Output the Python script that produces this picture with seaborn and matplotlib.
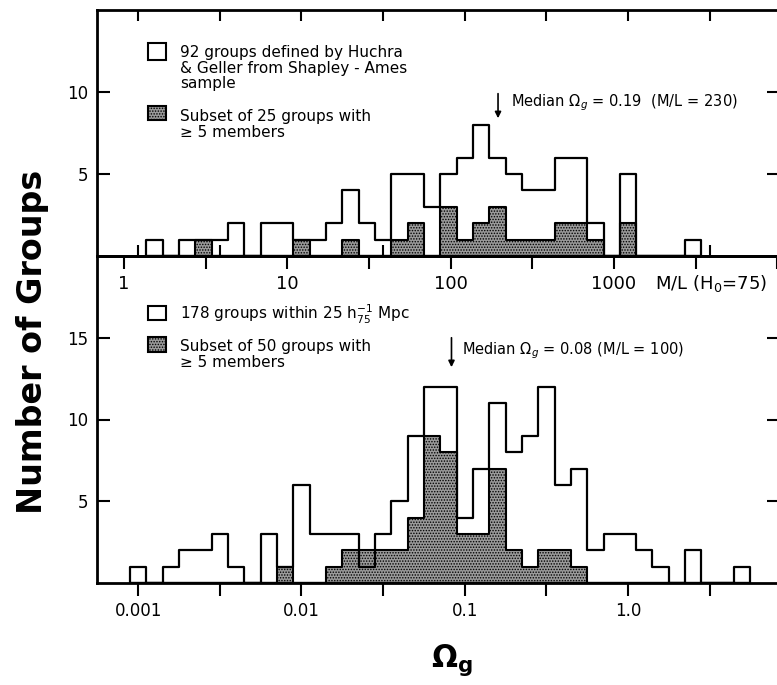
import numpy as np
import pandas as pd
import seaborn as sns
import matplotlib.pyplot as plt
from matplotlib.patches import Rectangle
from matplotlib.ticker import NullLocator

# counts per 0.1 dex bin in log(Omega_g); first bin centre given
top_first_center = -2.9   # 92 Huchra & Geller groups (Shapley-Ames)
top_all = [1, 0, 1, 1, 1, 2, 0, 2, 2, 1, 1, 2, 4, 2, 1, 5, 5, 3, 5, 6, 8, 6, 5,
           4, 4, 6, 6, 2, 0, 5, 0, 0, 0, 1]
top_sub = [0, 0, 0, 1, 0, 0, 0, 0, 0, 1, 0, 0, 1, 0, 0, 1, 2, 0, 3, 1, 2, 3, 1,
           1, 1, 2, 2, 1, 0, 2, 0, 0, 0, 0]

bot_first_center = -3.0   # 178 groups within 25 Mpc
bot_all = [1, 0, 1, 2, 2, 3, 1, 0, 3, 1, 6, 3, 3, 3, 1, 3, 5, 9, 12, 12, 4, 7,
           11, 8, 9, 12, 6, 7, 2, 3, 3, 2, 1, 0, 2, 0, 0, 1]
bot_sub = [0, 0, 0, 0, 0, 0, 0, 0, 0, 1, 0, 0, 1, 2, 2, 2, 2, 4, 9, 8, 3, 3,
           7, 2, 1, 2, 2, 1, 0, 0, 0, 0, 0, 0, 0, 0, 0, 0]

ml_factor = 1220          # M/L (H0=75) per unit Omega_g
top_median_arrow = 0.16
bot_median_arrow = 0.083

omega_ticks = [0.001, 0.00316, 0.01, 0.0316, 0.1, 0.316, 1.0, 3.16]
omega_labels = ["0.001", "", "0.01", "", "0.1", "", "1.0", ""]
ml_ticks = [1, 3.16, 10, 31.6, 100, 316, 1000, 3162, 10000]
ml_labels = ["1", "", "10", "", "100", "", "1000", "", ""]

W, H = 777, 685
SHADE = "#9a9a9a"
DOTS = "......"

plt.rcParams["hatch.linewidth"] = 0.7
plt.rcParams["font.family"] = "DejaVu Sans"


def fx(x):
    return x / W


def fy(y):
    return 1 - y / H


def draw_hist(ax, first_center, counts, **kws):
    n = len(counts)
    centers = first_center + 0.1 * np.arange(n)
    edges = first_center - 0.05 + 0.1 * np.arange(n + 1)
    df = pd.DataFrame({"omega": 10 ** centers, "count": counts})
    sns.histplot(data=df, x="omega", weights="count", bins=edges.tolist(),
                 log_scale=True, element="step", fill=True, alpha=1,
                 color="black", ax=ax, **kws)


fig = plt.figure(figsize=(W / 100, H / 100), dpi=100)
fig.patch.set_facecolor("white")
ax_top = fig.add_axes([fx(97), fy(256), (779 - 97) / W, 246 / H])
ax_bot = fig.add_axes([fx(97), fy(583), (779 - 97) / W, 327 / H])
ax_bot.patch.set_alpha(0)

for ax, fc, alls, subs in [(ax_top, top_first_center, top_all, top_sub),
                           (ax_bot, bot_first_center, bot_all, bot_sub)]:
    draw_hist(ax, fc, subs, facecolor=SHADE, edgecolor="black",
              linewidth=1.5, hatch=DOTS, zorder=2)
    draw_hist(ax, fc, alls, facecolor="none", edgecolor="black",
              linewidth=1.6, zorder=3)
    ax.set_xscale("log")
    ax.set_xlim(10 ** -3.2517, 10 ** 0.9247)
    ax.set_xticks(omega_ticks, omega_labels)
    ax.xaxis.set_minor_locator(NullLocator())
    ax.set_xlabel("")
    ax.set_ylabel("")
    for s in ax.spines.values():
        s.set_linewidth(2)
    ax.tick_params(axis="y", direction="in", left=True, right=True,
                   length=9, width=1.5, labelsize=12, pad=6)

ax_top.set_ylim(0, 15)
ax_top.set_yticks([5, 10])
ax_bot.set_ylim(0, 20)
ax_bot.set_yticks([5, 10, 15])

ax_top.tick_params(axis="x", direction="in", top=True, bottom=True,
                   length=8, width=1.5, labelbottom=False)
ax_bot.tick_params(axis="x", direction="out", top=False, bottom=True,
                   length=9, width=1.5, labelsize=12, pad=5)

# M/L scale along the shared line
ml = ax_top.secondary_xaxis("bottom", functions=(lambda w: w * ml_factor,
                                                 lambda m: m / ml_factor))
ml.set_xticks(ml_ticks, ml_labels)
ml.xaxis.set_minor_locator(NullLocator())
ml.tick_params(direction="out", length=9, width=1.5, labelsize=13, pad=5)
ml.spines["bottom"].set_linewidth(2)
fig.text(fx(655), fy(283), r"M/L (H$_0$=75)", fontsize=13, va="center")

# medians
ax_top.annotate("", xy=(top_median_arrow, 8.4), xytext=(top_median_arrow, 9.9),
                arrowprops=dict(arrowstyle="-|>", color="black", lw=1.2,
                                mutation_scale=9, shrinkA=0, shrinkB=0))
fig.text(fx(511), fy(103), r"Median $\Omega_g$ = 0.19  (M/L = 230)",
         fontsize=10.5, va="center")
ax_bot.annotate("", xy=(bot_median_arrow, 13.2), xytext=(bot_median_arrow, 15.0),
                arrowprops=dict(arrowstyle="-|>", color="black", lw=1.2,
                                mutation_scale=9, shrinkA=0, shrinkB=0))
fig.text(fx(462), fy(351), r"Median $\Omega_g$ = 0.08 (M/L = 100)",
         fontsize=10.5, va="center")


# legend keys
def key(x0, y0, x1, y1, shaded):
    fig.add_artist(Rectangle((fx(x0), fy(y1)), (x1 - x0) / W, (y1 - y0) / H,
                             transform=fig.transFigure, lw=1.5,
                             edgecolor="black",
                             facecolor=SHADE if shaded else "white",
                             hatch=DOTS if shaded else None))


key(148, 43, 166, 60, False)
fig.text(fx(180), fy(45), "92 groups defined by Huchra\n& Geller from Shapley - Ames\nsample",
         fontsize=11, va="top", linespacing=1.05)
key(148, 106, 166, 120, True)
fig.text(fx(180), fy(109), "Subset of 25 groups with\n\u2265 5 members",
         fontsize=11, va="top", linespacing=1.05)

key(148, 306, 166, 320, False)
fig.text(fx(180), fy(314), r"178 groups within 25 h$^{-1}_{75}$ Mpc",
         fontsize=11, va="center")
key(148, 337, 166, 352, True)
fig.text(fx(180), fy(339), "Subset of 50 groups with\n\u2265 5 members",
         fontsize=11, va="top", linespacing=1.05)

fig.text(fx(33), fy(342), "Number of Groups", rotation=90, fontsize=24,
         fontweight="bold", ha="center", va="center")
fig.text(fx(452), fy(660), r"$\mathbf{\Omega_g}$", fontsize=22,
         ha="center", va="center")

fig.savefig("out.png", dpi=100, facecolor="white")
